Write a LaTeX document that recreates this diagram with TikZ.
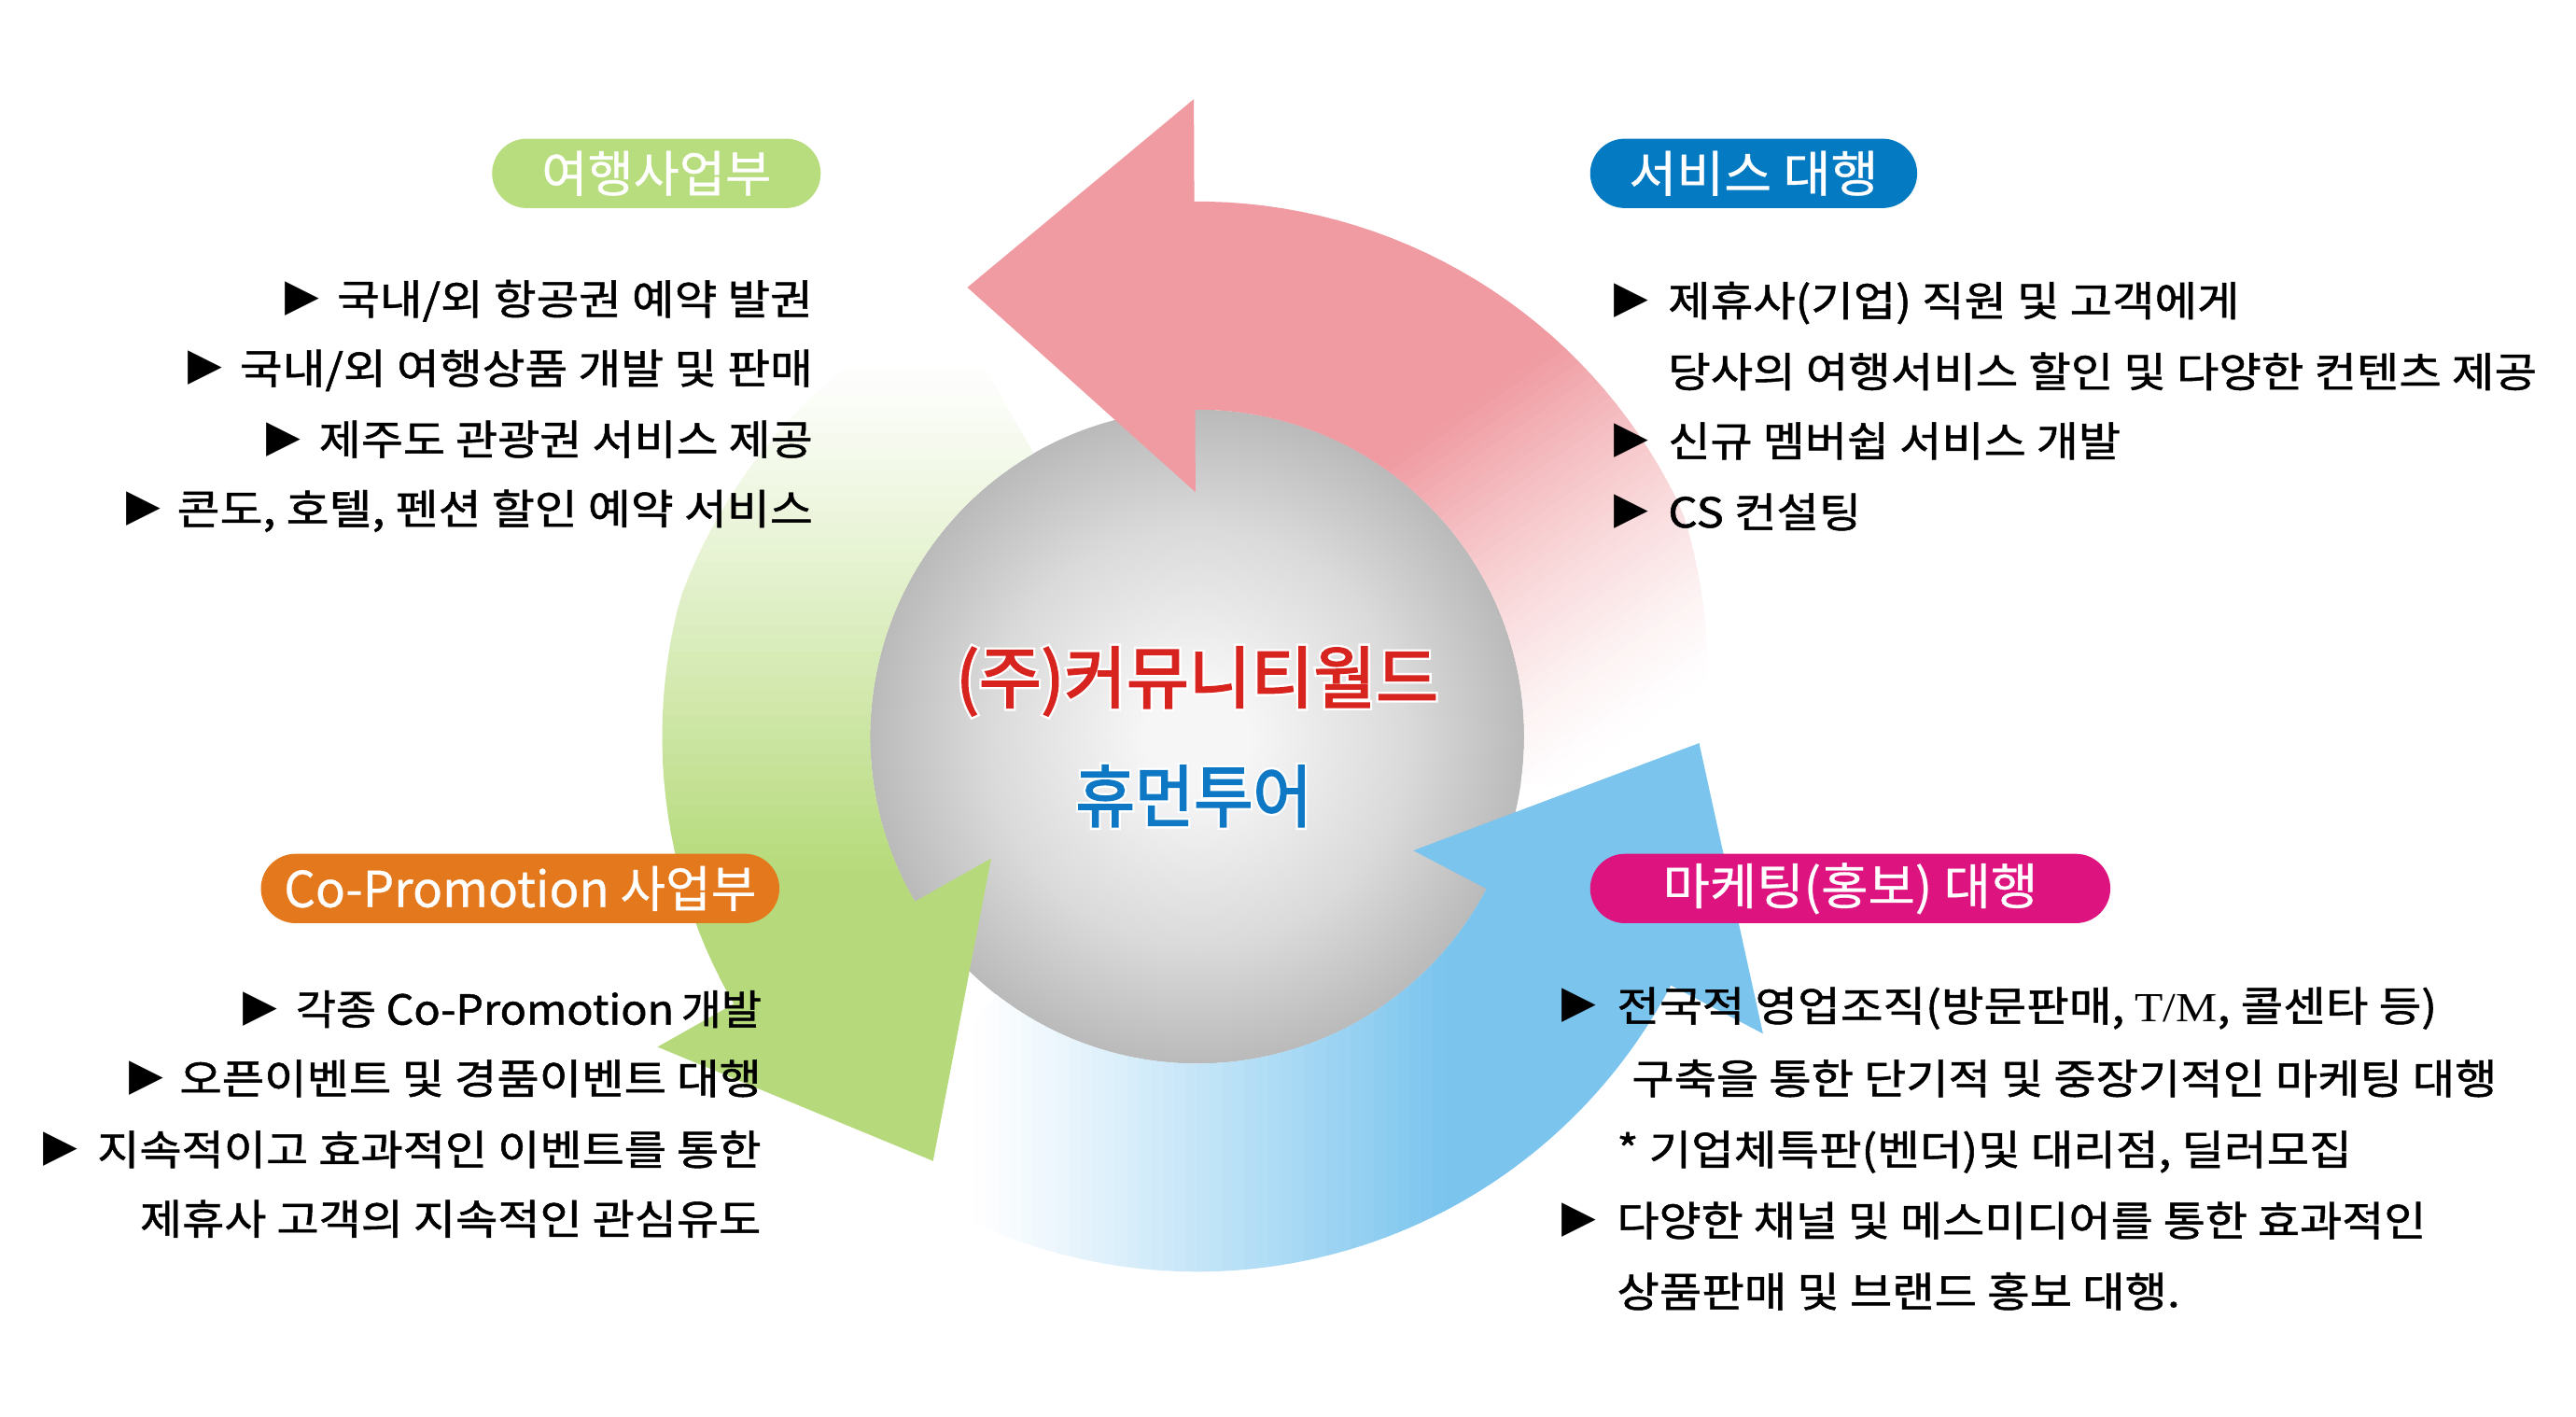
\documentclass[tikz,border=0pt]{standalone}
\usepackage{fontspec}
\usepackage{graphicx}
\newfontfamily\kr{Noto Sans CJK KR}[FakeBold=1.1]
\newfontfamily\krp{Noto Sans CJK KR}[FakeBold=0.6]
\newfontfamily\krb{Noto Sans CJK KR}[FakeBold=2.5]
\newfontfamily\krh{Noto Sans CJK KR}[FakeBold=9]
\newfontfamily\dv{DejaVu Sans}
\newfontfamily\tms{Liberation Serif}
\definecolor{pinkA}{RGB}{239,155,161}
\definecolor{greenA}{RGB}{182,218,123}
\definecolor{blueA}{RGB}{122,196,238}
\definecolor{pillG}{RGB}{184,221,126}
\definecolor{pillB}{RGB}{4,122,194}
\definecolor{pillO}{RGB}{228,120,28}
\definecolor{pillM}{RGB}{221,20,128}
\definecolor{titleR}{RGB}{215,36,30}
\definecolor{titleB}{RGB}{15,120,196}
\definecolor{sphC}{RGB}{246,246,246}
\definecolor{sphM}{RGB}{218,218,218}
\definecolor{sphE}{RGB}{186,186,186}
\pgfdeclareradialshading{sph}{\pgfpoint{0bp}{0bp}}{color(0bp)=(sphC); color(4bp)=(sphC); color(16bp)=(sphM); color(25bp)=(sphE); color(50bp)=(sphE)}
\newcommand\fw[2]{\resizebox{#1pt}{\height}{#2}}
% #1 colour, #2 direction, #3 solid up to, #4 white from, #5 steps, #6 exponent
\newcommand\gradfill[6]{%
  \begin{scope}[rotate=#2]
    \fill[#1] (-700,-700) rectangle ({#3+0.5},700);
    \foreach \i in {1,...,#5}{
      \pgfmathsetmacro\pa{#3+(#4-#3)*(\i-1)/#5}
      \pgfmathsetmacro\pb{#3+(#4-#3)*\i/#5+0.6}
      \pgfmathsetmacro\pc{100*(1-(\i-0.5)/#5)^#6}
      \fill[#1!\pc!white] (\pa,-700) rectangle (\pb,700);
    }
  \end{scope}}
\tikzset{
  txt/.style={inner sep=0pt, anchor=base west, font=\kr\fontsize{25}{30}\selectfont, text=black},
  bul/.style={inner sep=0pt, font=\dv\fontsize{27}{30}\selectfont, text=black},
  pill/.style={rounded corners=21pt, minimum height=42pt, inner sep=0pt, text=white, font=\krp\fontsize{30}{34}\selectfont},
  ttl/.style={inner sep=0pt, font=\krb\fontsize{41}{46}\selectfont},
  halo/.style={inner sep=0pt, font=\krh\fontsize{41}{46}\selectfont, text=white},
}
\begin{document}
\begin{tikzpicture}[x=1pt,y=1pt]
\fill[white] (0,0) rectangle (1560,858);
\useasboundingbox (0,0) rectangle (1560,858);
% ---------- sphere and arrows ----------
\begin{scope}[shift={(725,412)}]
  \shade[shading=sph] (0,0) circle (198);
  % pink body
  \begin{scope}
    \clip (90.9:198) arc[start angle=90.9, end angle=-8, radius=198]
      -- plot[domain=-8:90.9, samples=50] ({\x}:{324-0.7*max(0,25-\x)}) -- cycle;
    \gradfill{pinkA}{-55}{-70}{155}{40}{1.4}
  \end{scope}
  % green body
  \begin{scope}
    \clip (210.8:198) arc[start angle=210.8, end angle=120, radius=198]
      -- plot[domain=120:210.8, samples=50] ({\x}:{324-0.5*max(0,165-\x)}) -- cycle;
    \gradfill{greenA}{90}{-80}{230}{40}{1.15}
  \end{scope}
  % blue body
  \begin{scope}
    \clip (332.8:198) arc[start angle=332.8, end angle=232, radius=198]
      -- (232:324) arc[start angle=232, end angle=332.8, radius=324] -- cycle;
    \gradfill{blueA}{180}{-150}{135}{40}{1.1}
  \end{scope}
  % heads
  \fill[pinkA] (90.3:386) -- (117.1:305.5) -- (90.4:148) -- cycle;
  \fill[greenA] (209.9:377) -- (238.1:302.7) -- (210.6:145) -- cycle;
  \fill[blueA] (332.3:387) -- (359.25:304) -- (332.2:148) -- cycle;
\end{scope}
% ---------- centre titles (white outline under coloured text) ----------
\node[halo] (t1h) at (725,445.5) {\fw{292}{(주)커뮤니티월드}};
\node[halo] (t2h) at (723,376) {\fw{143}{휴먼투어}};
\node[ttl, text=titleR] (t1) at (725,445.5) {\fw{292}{(주)커뮤니티월드}};
\node[ttl, text=titleB] (t2) at (723,376) {\fw{143}{휴먼투어}};
% ---------- pills ----------
\node[pill, fill=pillG, minimum width=199pt] (p1) at (397.5,753) {\fw{139}{여행사업부}};
\node[pill, fill=pillB, minimum width=198pt] (p2) at (1062,753) {\fw{151}{서비스 대행}};
\node[pill, fill=pillO, minimum width=314pt] (p3) at (315,320) {\fw{286}{Co-Promotion 사업부}};
\node[pill, fill=pillM, minimum width=315pt] (p4) at (1120.5,320) {\fw{227}{마케팅(홍보) 대행}};
% ---------- top left ----------
\node[bul] (a1b) at (183,677) {▶};
\node[txt] (a1) at (204,667.6) {\fw{288}{국내/외 항공권 예약 발권}};
\node[bul] (a2b) at (124,635) {▶};
\node[txt] (a2) at (145,625.6) {\fw{347}{국내/외 여행상품 개발 및 판매}};
\node[bul] (a3b) at (172,592) {▶};
\node[txt] (a3) at (193,582.6) {\fw{299}{제주도 관광권 서비스 제공}};
\node[bul] (a4b) at (87,550) {▶};
\node[txt] (a4) at (107,540.6) {\fw{385}{콘도, 호텔, 펜션 할인 예약 서비스}};
% ---------- top right ----------
\node[bul] (b1b) at (988,676) {▶};
\node[txt] (b1) at (1010,666.6) {\fw{346}{제휴사(기업) 직원 및 고객에게}};
\node[txt] (b2) at (1010,623.6) {\fw{526}{당사의 여행서비스 할인 및 다양한 컨텐츠 제공}};
\node[bul] (b3b) at (988,591) {▶};
\node[txt] (b3) at (1010,581.6) {\fw{274}{신규 멤버쉽 서비스 개발}};
\node[bul] (b4b) at (988,548) {▶};
\node[txt] (b4) at (1010,538.6) {\fw{117}{CS 컨설팅}};
% ---------- bottom left ----------
\node[bul] (c1b) at (157.5,247) {▶};
\node[txt] (c1) at (179,237.6) {\fw{282}{각종 Co-Promotion\,개발}};
\node[bul] (c2b) at (88.5,205) {▶};
\node[txt] (c2) at (108.5,195.6) {\fw{352.5}{오픈이벤트 및 경품이벤트 대행}};
\node[bul] (c3b) at (36.5,162) {▶};
\node[txt] (c3) at (58.7,152.6) {\fw{402}{지속적이고 효과적인 이벤트를 통한}};
\node[txt] (c4) at (84.6,110.6) {\fw{376}{제휴사 고객의 지속적인 관심유도}};
% ---------- bottom right ----------
\node[bul] (d1b) at (956.5,249) {▶};
\node[txt] (d1) at (979,239.6) {\fw{496.6}{전국적 영업조직(방문판매, {\tms T/M}, 콜센타 등)}};
\node[txt] (d2) at (988,195.6) {\fw{524}{구축을 통한 단기적 및 중장기적인 마케팅 대행}};
\node[txt] (d3) at (979,152.6) {\fw{445}{* 기업체특판(벤더)및 대리점, 딜러모집}};
\node[bul] (d4b) at (956.5,119) {▶};
\node[txt] (d4) at (979,109.6) {\fw{490}{다양한 채널 및 메스미디어를 통한 효과적인}};
\node[txt] (d5) at (979,66.6) {\fw{341}{상품판매 및 브랜드 홍보 대행.}};
\end{tikzpicture}
\end{document}
